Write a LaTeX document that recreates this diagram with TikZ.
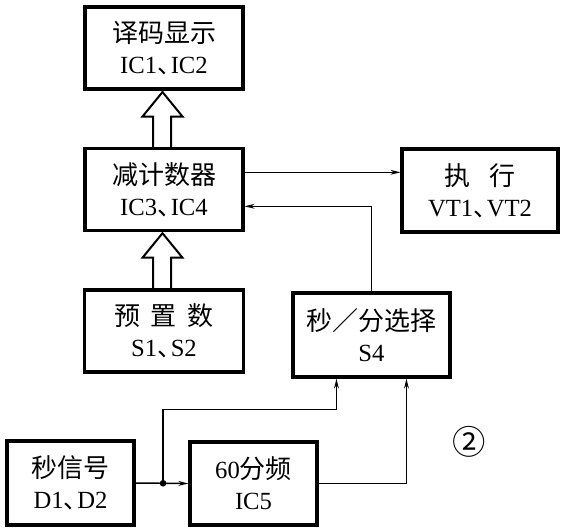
\documentclass[tikz,border=0pt]{standalone}
\usepackage{fontspec}
\setmainfont{Liberation Serif}
\newfontfamily\cjk{Noto Sans CJK SC}
\usetikzlibrary{arrows.meta,calc}
\newcommand{\dun}{\makebox[0.55em][l]{\cjk 、}}
\newcommand{\zh}[1]{{\fontsize{19.5}{21}\selectfont\cjk #1}}
\tikzset{
  blk/.style={draw, line width=2.3pt, inner sep=0pt, align=center,
    font=\fontsize{18.5}{21}\selectfont},
  wire/.style={line width=1.1pt},
  arr/.style={wire, -{Stealth[length=7.5pt,width=3.6pt]}},
  hollow/.style={line width=1.5pt, line join=miter},
  jdot/.style={circle, fill, inner sep=0pt, minimum size=5pt}
}
\begin{document}
\begin{tikzpicture}[x=0.75pt,y=-0.75pt]
\useasboundingbox (0,0) rectangle (567,529);
\node[blk, minimum width=118.5pt, minimum height=61.5pt] (dec) at (164,48)
  {\zh{译码显示}\\[2pt]IC1\dun IC2};
\node[blk, minimum width=118.5pt, minimum height=61pt] (cnt) at (164,189.5)
  {\zh{减计数器}\\[2pt]IC3\dun IC4};
\node[blk, minimum width=117pt, minimum height=62.25pt] (exe) at (480,190.5)
  {\zh{执\hspace{0.7em}行}\\[2pt]VT1\dun VT2};
\node[blk, minimum width=119pt, minimum height=61.5pt] (pre) at (164,331)
  {\zh{预\hspace{0.4em}置\hspace{0.4em}数}\\[2pt]S1\dun S2};
\node[blk, minimum width=117.75pt, minimum height=63pt] (sel) at (371.5,335)
  {\zh{秒／分选择}\\[2pt]S4};
\node[blk, minimum width=95.25pt, minimum height=63pt] (sec) at (70.5,483)
  {\zh{秒信号}\\[2pt]D1\dun D2};
\node[blk, minimum width=95.25pt, minimum height=62.25pt] (div) at (253.5,483.5)
  {60\zh{分频}\\[2pt]IC5};
\node[font=\fontsize{25}{27}\selectfont\cjk] (num) at (469,442) {②};

% hollow arrows
\draw[hollow] ($(cnt.north)+(-11,0)$) -- ($(dec.south)+(-11,26)$) -- ($(dec.south)+(-21.5,26)$)
  -- ($(dec.south)+(-1.5,1.5)$) -- ($(dec.south)+(18.5,26)$) -- ($(dec.south)+(7,26)$)
  -- ($(cnt.north)+(7,0)$);
\draw[hollow] ($(pre.north)+(-11,0)$) -- ($(cnt.south)+(-11,26)$) -- ($(cnt.south)+(-21.5,26)$)
  -- ($(cnt.south)+(-1.5,1.5)$) -- ($(cnt.south)+(18.5,26)$) -- ($(cnt.south)+(7,26)$)
  -- ($(pre.north)+(7,0)$);

% connectors
\coordinate (c1) at ($(cnt.north east)+(0,25)$);
\draw[arr] (c1) -- (c1 -| exe.west);
\coordinate (c2) at ($(cnt.north east)+(0,59)$);
\draw[arr] (sel.north) |- (c2);
\coordinate (jn) at ($(sec.east)!0.52!(div.west)$);
\draw[arr] (sec.east) -- (div.west);
\node[jdot] (dot) at (jn) {};
\coordinate (s1) at ($(sel.south west)+(45,0)$);
\coordinate (s2) at ($(sel.south west)+(115,0)$);
\coordinate (t1) at ($(jn)+(0,-74)$);
\draw[arr] (dot.center) -- (t1) -| (s1);
\draw[arr] (div.east) -| (s2);
\end{tikzpicture}
\end{document}
